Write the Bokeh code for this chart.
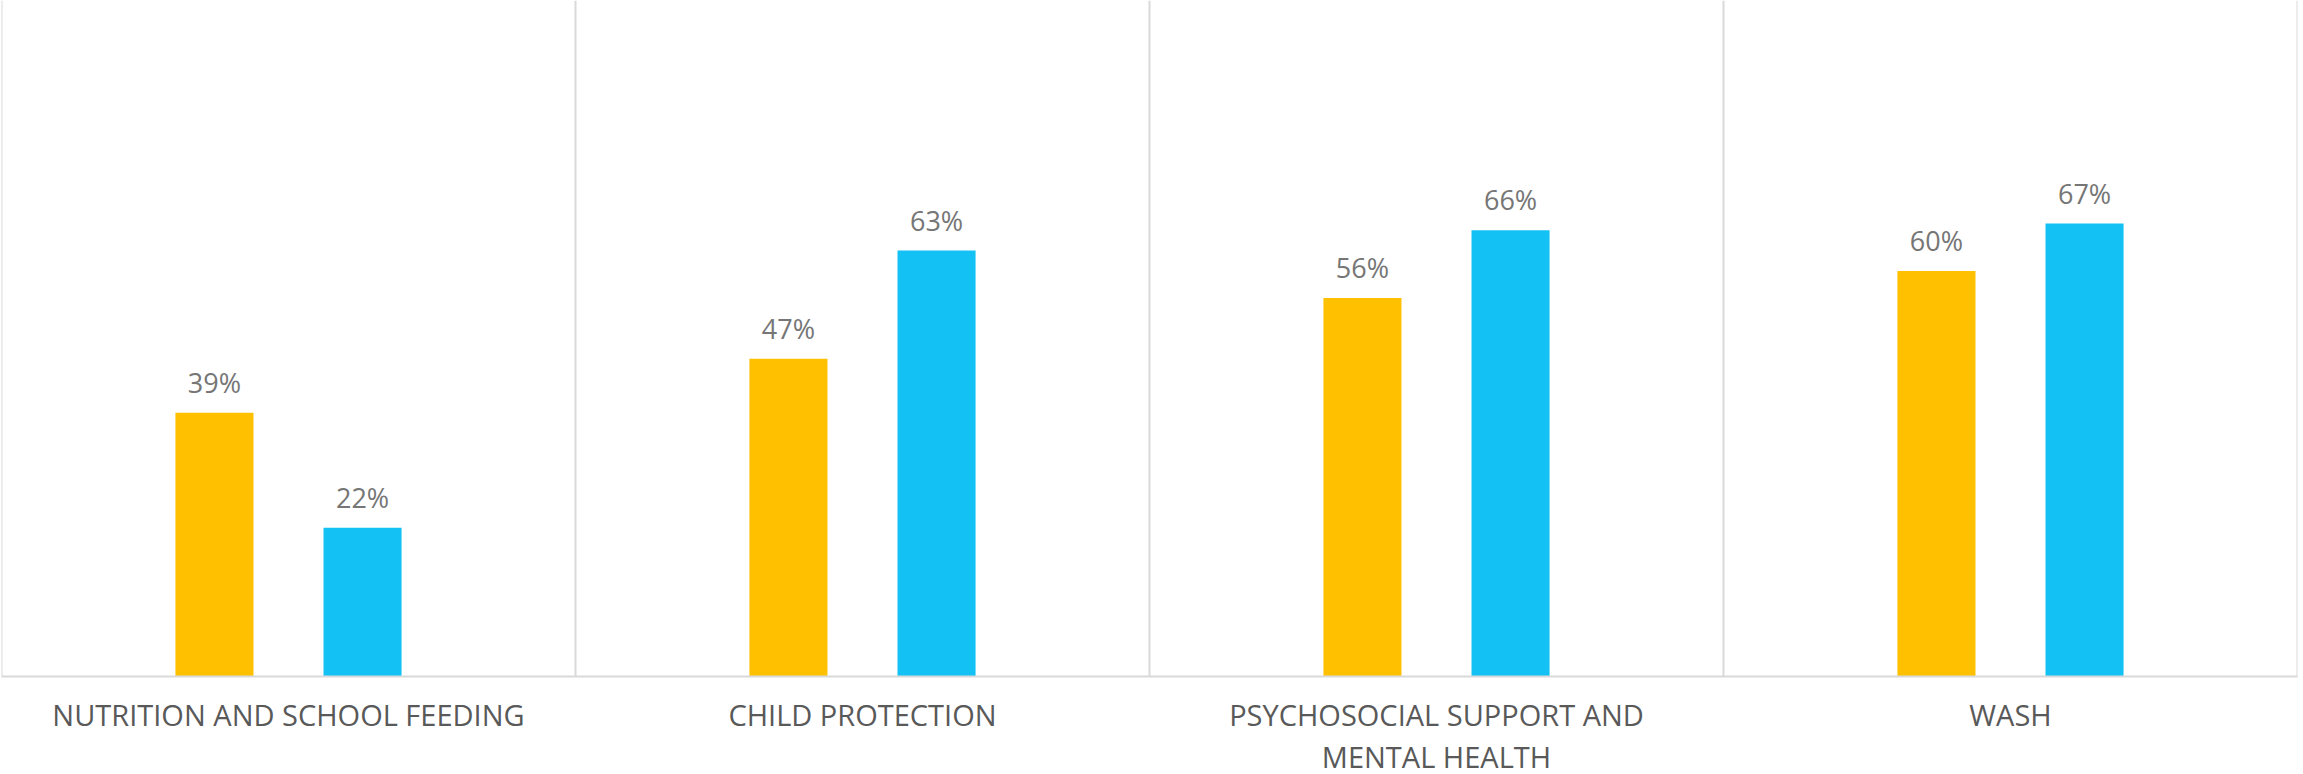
from bokeh.plotting import figure
from bokeh.models import ColumnDataSource, FactorRange, Range1d, LabelSet, Span
from bokeh.transform import dodge
from bokeh.core.properties import value
from bokeh.embed import file_html
from bokeh.resources import INLINE

categories = [
    "NUTRITION AND SCHOOL FEEDING",
    "CHILD PROTECTION",
    "PSYCHOSOCIAL SUPPORT AND\nMENTAL HEALTH",
    "WASH",
]
series_a = [39, 47, 56, 60]   # yellow bars
series_b = [22, 63, 66, 67]   # blue bars

label_a = [f"{v}%" for v in series_a]
label_b = [f"{v}%" for v in series_b]

YELLOW = "#FFC000"
BLUE = "#13C1F5"
GRID = "#D9D9D9"

src = ColumnDataSource(dict(cat=categories, a=series_a, b=series_b, la=label_a, lb=label_b))

p = figure(
    frame_width=2296, frame_height=676,
    x_range=FactorRange(*categories, range_padding=0),
    y_range=Range1d(0, 100),
    output_backend="svg", toolbar_location=None,
    min_border_left=1, min_border_right=6, min_border_top=0, min_border_bottom=98,
)
p.background_fill_color = "white"
p.border_fill_color = "white"
p.outline_line_color = None

OFF = 0.129
W = 0.136
p.vbar(x=dodge("cat", -OFF, range=p.x_range), top="a", width=W, source=src,
       fill_color=YELLOW, line_color=None)
p.vbar(x=dodge("cat", OFF, range=p.x_range), top="b", width=W, source=src,
       fill_color=BLUE, line_color=None)

for col, lab, off in (("a", "la", -OFF), ("b", "lb", OFF)):
    ls = LabelSet(x=dodge("cat", off, range=p.x_range), y=col, text=lab, source=src,
                  text_align="center", text_baseline="alphabetic", y_offset=20,
                  text_font=value("Open Sans"), text_font_size=value("27px"),
                  text_color="#767676")
    p.add_layout(ls)

# category separators and side borders
for i in range(len(categories) + 1):
    p.add_layout(Span(location=i, dimension="height", line_color=GRID, line_width=2))

p.yaxis.visible = False
p.ygrid.grid_line_color = None
p.xgrid.grid_line_color = None

ax = p.xaxis[0]
ax.axis_line_color = GRID
ax.axis_line_width = 2
ax.major_tick_line_color = None
ax.minor_tick_line_color = None
ax.major_label_text_font = "Open Sans"
ax.major_label_text_font_size = "29px"
ax.major_label_text_color = "#595959"
ax.major_label_text_line_height = 1.1
ax.major_label_standoff = 12

open("out.html", "w").write(file_html(p, INLINE))
